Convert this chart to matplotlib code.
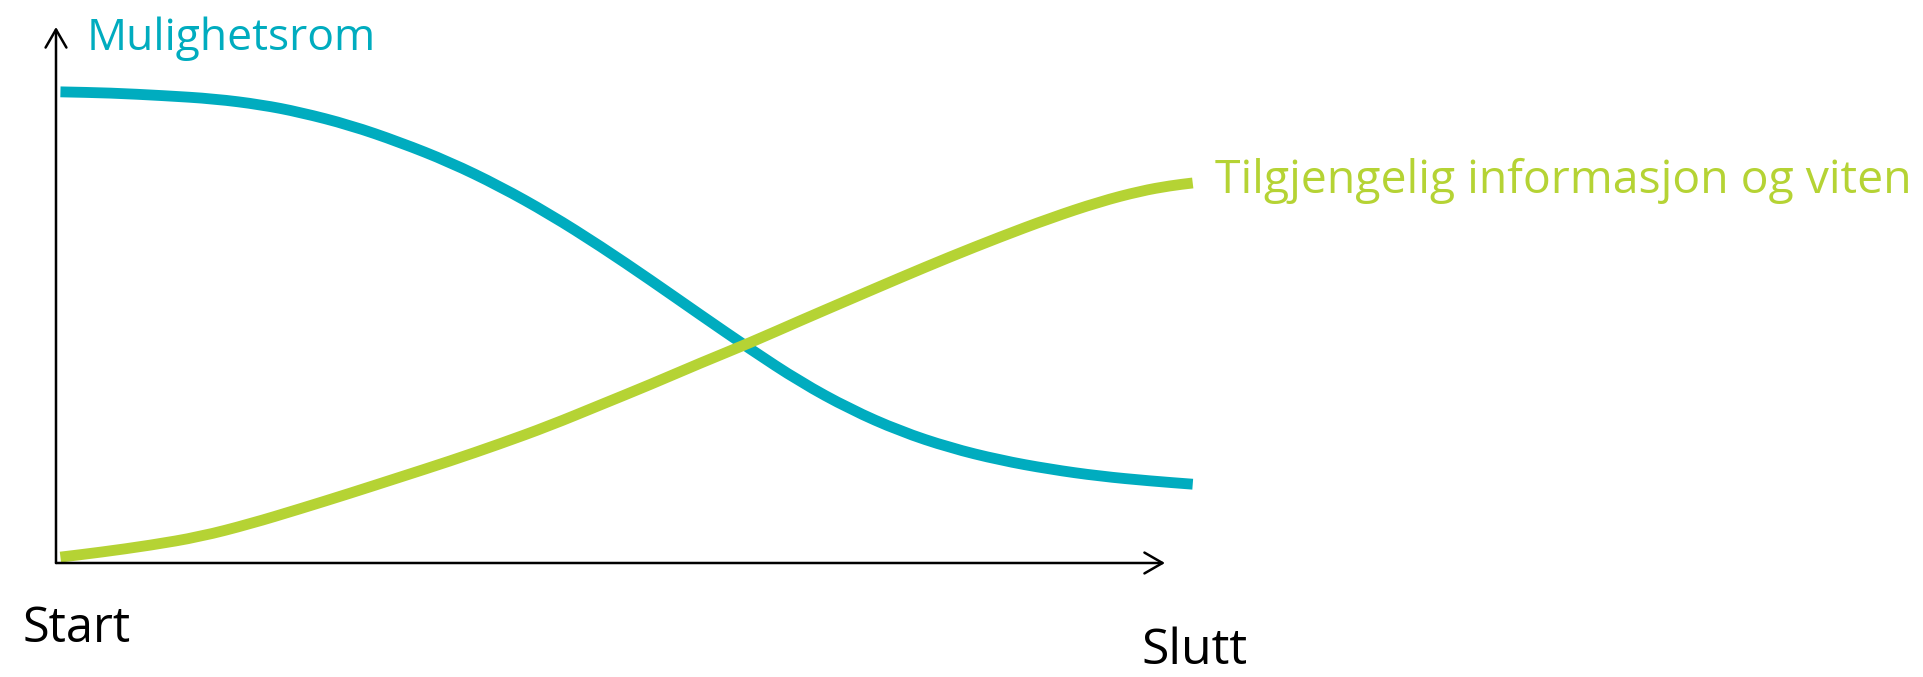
import matplotlib
matplotlib.use("Agg")
from matplotlib import pyplot as plt
from matplotlib.path import Path
from matplotlib.patches import PathPatch

# time from Start (0) to Slutt (100), level 0..100 on the vertical arrow
blue_t = [0.4, 4.9, 9.7, 14.3, 18.5, 22.0, 26.5, 31.0, 35.5, 40.0, 44.5, 49.1,
          53.6, 58.1, 62.6, 67.1, 71.6, 76.1, 80.6, 85.1, 89.6, 94.1, 98.7, 102.5]
blue_v = [87.9, 87.7, 87.2, 86.6, 85.5, 84.1, 81.7, 78.5, 74.8, 70.3, 65.1, 59.1,
          52.8, 46.3, 39.9, 33.8, 28.7, 24.6, 21.5, 19.2, 17.5, 16.2, 15.3, 14.7]

green_t = [0.4, 4.0, 8.5, 13.0, 17.5, 22.0, 26.5, 31.0, 35.5, 40.0, 44.5, 49.1, 53.6,
           58.1, 62.6, 67.1, 71.6, 76.1, 80.6, 85.1, 89.6, 94.1, 97.8, 100.5, 102.5]
green_v = [1.1, 2.0, 3.3, 4.9, 7.3, 10.1, 13.0, 16.0, 19.0, 22.2, 25.6, 29.5, 33.3,
           37.3, 41.1, 45.2, 49.2, 53.2, 57.1, 60.8, 64.3, 67.4, 69.4, 70.4, 70.9]

labels = ["Mulighetsrom", "Tilgjengelig informasjon og viten"]
axis_labels = ["Start", "Slutt"]

BLUE = "#00acbf"
GREEN = "#b5d334"

plt.rcParams['font.family'] = ['Open Sans', 'DejaVu Sans']


def smooth_curve(ax, xs, ys, color):
    # quadratic bezier path through the read points, drawn in data coordinates
    pts = list(zip(xs, ys))
    verts = [pts[0]]
    codes = [Path.MOVETO]
    mid = lambda a, b: ((a[0] + b[0]) / 2, (a[1] + b[1]) / 2)
    verts.append(mid(pts[0], pts[1]))
    codes.append(Path.LINETO)
    for i in range(1, len(pts) - 1):
        verts += [pts[i], mid(pts[i], pts[i + 1])]
        codes += [Path.CURVE3, Path.CURVE3]
    verts.append(pts[-1])
    codes.append(Path.LINETO)
    patch = PathPatch(Path(verts, codes), facecolor='none', edgecolor=color, lw=7.8,
                      capstyle='butt', joinstyle='round', clip_on=False)
    ax.add_patch(patch)


W, H = 1924, 677
fig = plt.figure(figsize=(W / 100, H / 100), dpi=100)
ax = fig.add_axes([56 / W, (H - 563) / H, 1109 / W, 536 / H])
ax.set_xlim(0, 100)
ax.set_ylim(0, 100)
ax.axis('off')

smooth_curve(ax, blue_t, blue_v, BLUE)
smooth_curve(ax, green_t, green_v, GREEN)

arrow = dict(arrowstyle='->,head_length=1.3,head_width=0.75', lw=1.8, color='black',
             shrinkA=0, shrinkB=0)
ax.annotate('', xy=(1, 0), xytext=(0, 0), xycoords='axes fraction', arrowprops=arrow)
ax.annotate('', xy=(0, 1), xytext=(0, 0), xycoords='axes fraction', arrowprops=arrow)

fig.text(87 / W, 1 - 50 / H, labels[0], color=BLUE, fontsize=32, va='baseline', ha='left')
fig.text(1215 / W, 1 - 193 / H, labels[1], color=GREEN, fontsize=33.4, va='baseline', ha='left')
fig.text(23 / W, 1 - 642 / H, axis_labels[0], color='black', fontsize=35, va='baseline', ha='left')
fig.text(1141 / W, 1 - 664 / H, axis_labels[1], color='black', fontsize=36, va='baseline', ha='left')

fig.savefig('out.png', dpi=100, facecolor='white')
